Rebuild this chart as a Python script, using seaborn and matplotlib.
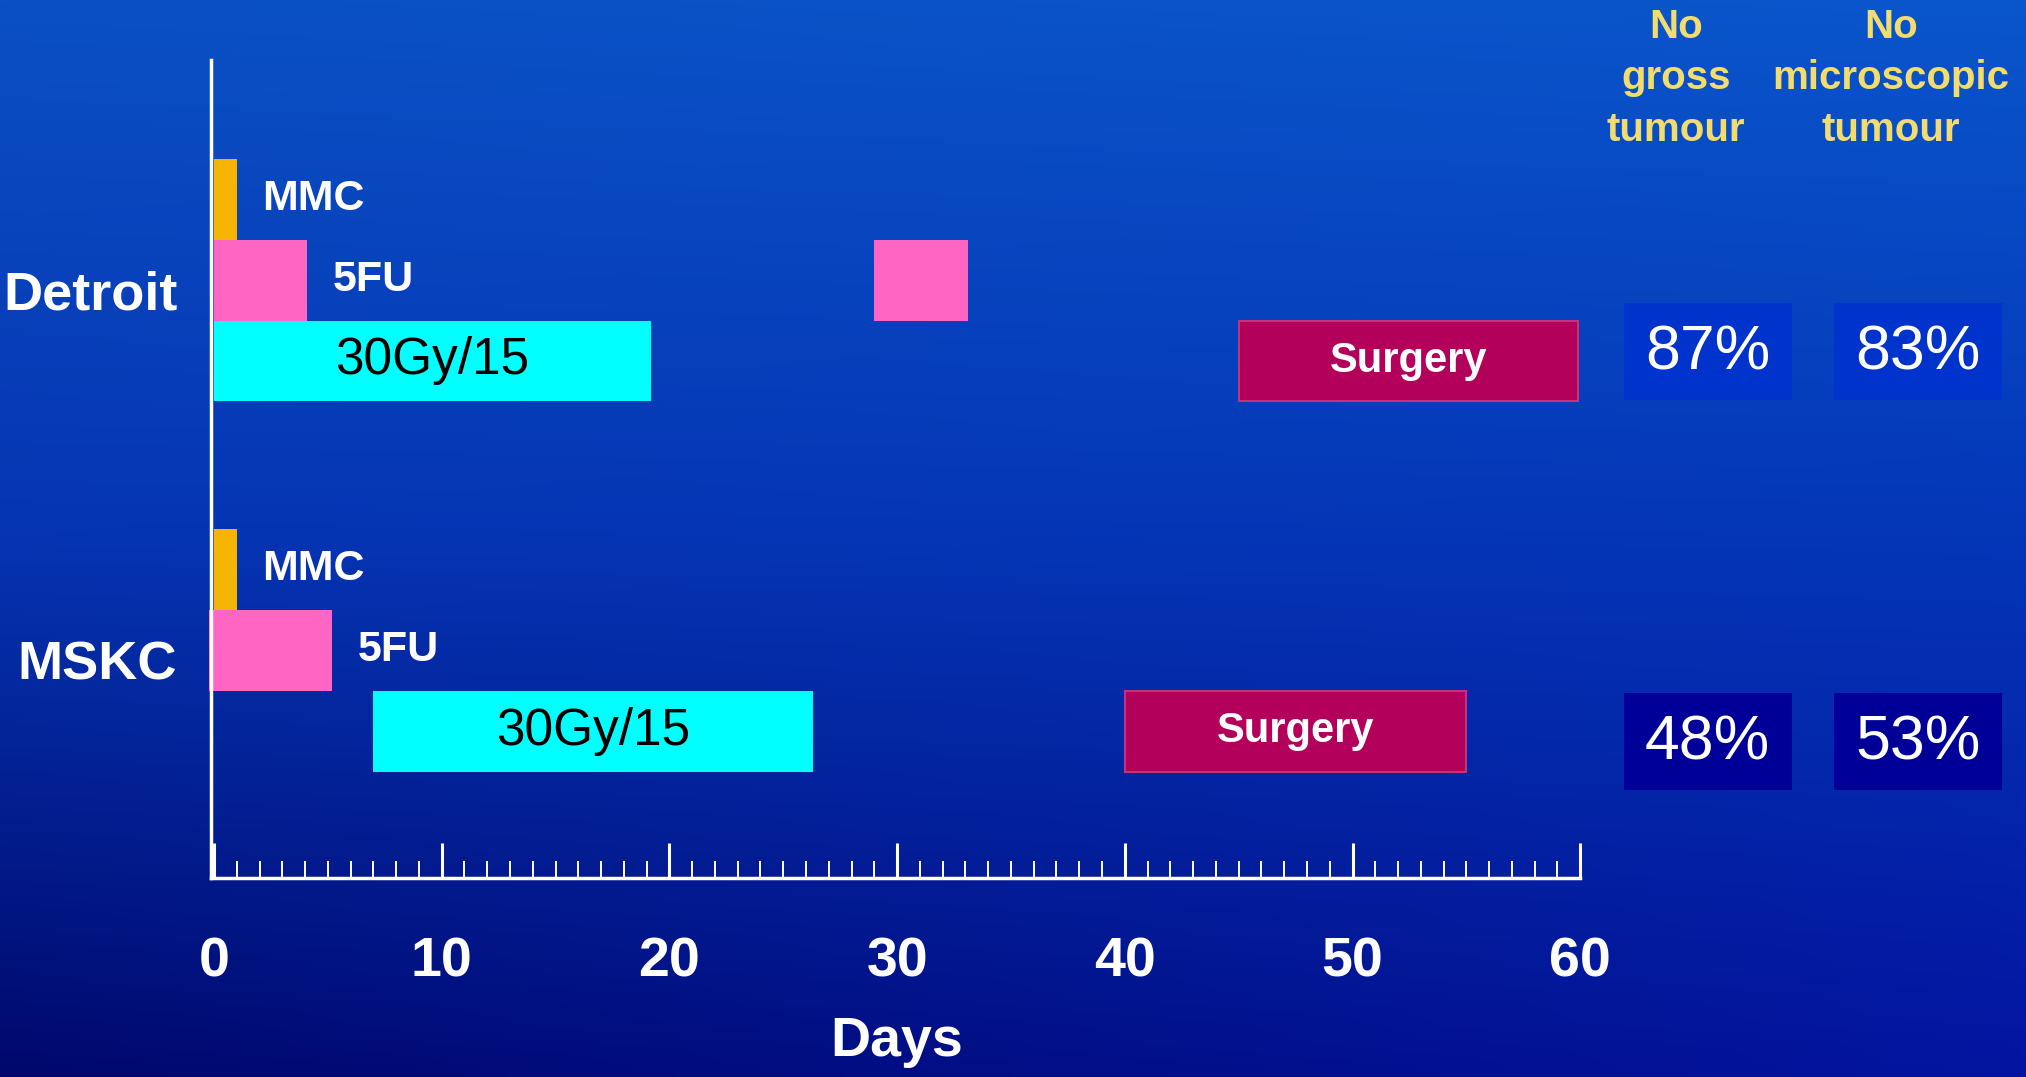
import numpy as np
import pandas as pd
import matplotlib
matplotlib.use("Agg")
import matplotlib.pyplot as plt
from matplotlib.colors import to_rgb
from matplotlib.patches import Rectangle
from matplotlib.ticker import FixedLocator
import seaborn as sns

# values (days)
sites = ["Detroit", "MSKC"]
bar_site = ["Detroit", "Detroit", "Detroit", "Detroit", "Detroit", "MSKC", "MSKC", "MSKC", "MSKC"]
bar_agent = ["MMC", "5FU", "5FU", "30Gy/15", "Surgery", "MMC", "5FU", "30Gy/15", "Surgery"]
bar_start = [0, 0, 29, 0, 45, 0, -0.2, 7, 40]
bar_end = [1, 4.1, 33.1, 19.2, 59.9, 1, 5.2, 26.3, 55]
no_gross = [87, 48]
no_micro = [83, 53]
col_heads = ["No\ngross\ntumour", "No\nmicroscopic\ntumour"]
day_ticks = [0, 10, 20, 30, 40, 50, 60]

df = pd.DataFrame({"site": bar_site, "agent": bar_agent, "start": bar_start, "end": bar_end})

# layout
site_offset = {"Detroit": 0.0, "MSKC": 4.57}
agent_lane = {"MMC": 0, "5FU": 1, "30Gy/15": 2, "Surgery": 2}
agent_color = {"MMC": "#f5b400", "5FU": "#ff66c4", "30Gy/15": "#00ffff", "Surgery": "#b3005a"}
box_color = {"Detroit": "#0033cc", "MSKC": "#000099"}
box_lane = {"Detroit": 1.88, "MSKC": 6.70}
col_x = [65.6, 74.85]
head_x = [64.2, 73.65]

sns.set_theme(style="white")
plt.rcParams["font.family"] = ["Liberation Sans", "DejaVu Sans"]

fig = plt.figure(figsize=(20.26, 10.77), dpi=100)
ax = fig.add_axes([0, 0, 1, 1])
ax.set_facecolor("none")

# slide background gradient
t = np.linspace(0, 1, 300)
stops = [0, 0.5, 1]
left = np.stack([np.interp(t, stops, [to_rgb(c)[k] for c in ("#0b50c4", "#0634b2", "#00086c")]) for k in range(3)], -1)
right = np.stack([np.interp(t, stops, [to_rgb(c)[k] for c in ("#0a56cc", "#0436b8", "#0414a0")]) for k in range(3)], -1)
s = np.linspace(0, 1, 300)[None, :, None]
img = (1 - s) * left[:, None, :] + s * right[:, None, :]
ax.imshow(img, extent=[0, 1, 0, 1], transform=ax.transAxes, aspect="auto", zorder=0)

# bars
df["lane"] = df["site"].map(site_offset) + df["agent"].map(agent_lane)
for _, r in df.iterrows():
    edge = "#c8307a" if r["agent"] == "Surgery" else "none"
    ax.barh(r["lane"], r["end"] - r["start"], left=r["start"], height=1.0,
            color=agent_color[r["agent"]], edgecolor=edge, linewidth=1.5, zorder=2)

# labels beside / inside bars
for site in sites:
    sub = df[df["site"] == site]
    for agent in ["MMC", "5FU"]:
        r = sub[sub["agent"] == agent].iloc[0]
        ax.text(r["end"] + 1.1, r["lane"], agent, color="white", fontsize=31,
                fontweight="bold", ha="left", va="center", zorder=3)
    r = sub[sub["agent"] == "30Gy/15"].iloc[0]
    ax.text((r["start"] + r["end"]) / 2, r["lane"], "30Gy/15", color="black",
            fontsize=37, ha="center", va="center", zorder=3)
    r = sub[sub["agent"] == "Surgery"].iloc[0]
    ax.text((r["start"] + r["end"]) / 2, r["lane"], "Surgery", color="white",
            fontsize=30, fontweight="bold", ha="center", va="center", zorder=3)

# outcome boxes
for i, site in enumerate(sites):
    for x, v in zip(col_x, [no_gross[i], no_micro[i]]):
        ax.add_patch(Rectangle((x - 3.69, box_lane[site] - 0.6), 7.38, 1.2,
                               facecolor=box_color[site], edgecolor="none", zorder=2))
        ax.text(x, box_lane[site] + 0.02, f"{v}%", color="white", fontsize=45,
                ha="center", va="center", zorder=3)

for x, h in zip(head_x, col_heads):
    ax.text(x, -2.36, h, color="#f2dc6e", fontsize=29, fontweight="bold",
            ha="center", va="top", linespacing=1.45, zorder=3)

# axes as a white timeline
ax.set_xlim(-214 / 22.77, (2026 - 214) / 22.77)
ax.set_ylim(10.84, -2.457)
for side in ["top", "right"]:
    ax.spines[side].set_visible(False)
ax.spines["bottom"].set_position(("data", 8.38))
ax.spines["bottom"].set_bounds(-0.15, 60)
ax.spines["left"].set_position(("data", -0.15))
ax.spines["left"].set_bounds(-1.72, 8.38)
for side in ["bottom", "left"]:
    ax.spines[side].set_color("white")
    ax.spines[side].set_linewidth(2.5)
    ax.spines[side].set_zorder(4)

ax.set_xticks(day_ticks)
ax.xaxis.set_minor_locator(FixedLocator([d for d in range(1, 60) if d % 10]))
ax.tick_params(axis="x", which="major", direction="in", length=25, width=2.2,
               color="white", pad=42, labelsize=40, labelcolor="white", bottom=True)
ax.tick_params(axis="x", which="minor", direction="in", length=12, width=1.4,
               color="white", bottom=True)
for lbl in ax.get_xticklabels():
    lbl.set_fontweight("bold")

ax.set_yticks([site_offset[s] + 1.12 for s in sites], sites)
ax.tick_params(axis="y", length=0, pad=24, labelsize=39, labelcolor="white", left=True)
for lbl in ax.get_yticklabels():
    lbl.set_fontweight("bold")

ax.set_xlabel("Days", color="white", fontsize=40, fontweight="bold", labelpad=20,
              x=(30 - ax.get_xlim()[0]) / (ax.get_xlim()[1] - ax.get_xlim()[0]))

fig.savefig("out.png", dpi=100)
